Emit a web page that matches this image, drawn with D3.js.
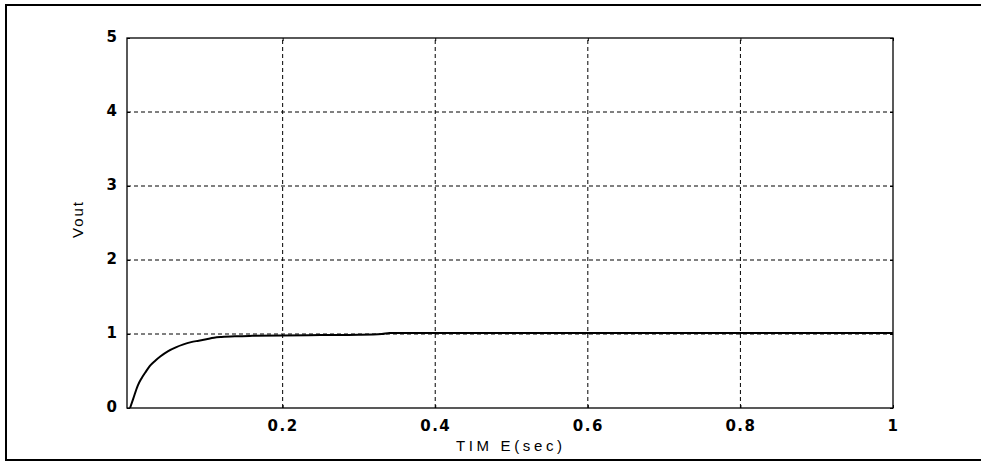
<!DOCTYPE html>
<html>
<head>
<meta charset="utf-8">
<script src="https://cdn.jsdelivr.net/npm/d3@7/dist/d3.min.js"></script>
<style>
  html, body { margin: 0; padding: 0; background: #fff; }
  svg { display: block; }
</style>
</head>
<body>
<svg id="chart" width="981" height="462"></svg>
<script>
// ---- data ----
const timeValues = [0, 0.004, 0.01, 0.015, 0.02, 0.026, 0.033, 0.04, 0.05, 0.06, 0.07, 0.08, 0.09, 0.1, 0.11, 0.12, 0.14, 0.16, 0.2, 0.25, 0.3, 0.33, 0.34, 0.5, 0.7, 1.0];
const voutValues = [0, 0.12, 0.30, 0.40, 0.48, 0.57, 0.64, 0.70, 0.77, 0.82, 0.86, 0.89, 0.91, 0.93, 0.95, 0.96, 0.97, 0.975, 0.98, 0.985, 0.99, 1.0, 1.015, 1.015, 1.015, 1.015];
const xTicks = [0.2, 0.4, 0.6, 0.8, 1];
const xTickLabels = ["0.2", "0.4", "0.6", "0.8", "1"];
const yTicks = [0, 1, 2, 3, 4, 5];
const yTickLabels = ["0", "1", "2", "3", "4", "5"];
const xLabel = "TIM E(sec)";
const yLabel = "Vout";

const svg = d3.select("#chart");

// outer frame (left, top, bottom edges)
svg.append("path")
  .attr("d", "M6,461 L6,5 L981,5 M6,460 L981,460")
  .attr("fill", "none").attr("stroke", "#000").attr("stroke-width", 2);

const L = 127, R = 893, T = 38, B = 408;
const x = d3.scaleLinear().domain([-0.004, 1]).range([L, R]);
const y = d3.scaleLinear().domain([0, 5]).range([B, T]);

const g = svg.append("g");

// grid lines
g.selectAll(".vgrid").data(xTicks.filter(d => d < 1)).enter().append("line")
  .attr("x1", d => x(d)).attr("x2", d => x(d)).attr("y1", B).attr("y2", T)
  .attr("stroke", "#000").attr("stroke-width", 1).attr("stroke-dasharray", "4,3");
g.selectAll(".hgrid").data(yTicks.filter(d => d > 0 && d < 5)).enter().append("line")
  .attr("x1", L).attr("x2", R).attr("y1", d => y(d)).attr("y2", d => y(d))
  .attr("stroke", "#000").attr("stroke-width", 1).attr("stroke-dasharray", "4,3");

// axes
const fmtX = (d) => xTickLabels[xTicks.indexOf(d)];
const fmtY = (d) => yTickLabels[yTicks.indexOf(d)];

const xAxis = g.append("g").attr("transform", `translate(0,${B})`)
  .call(d3.axisBottom(x).tickValues(xTicks).tickFormat(fmtX).tickSizeInner(-3).tickSizeOuter(0).tickPadding(12));
const yAxis = g.append("g").attr("transform", `translate(${L},0)`)
  .call(d3.axisLeft(y).tickValues(yTicks).tickFormat(fmtY).tickSizeInner(-3).tickSizeOuter(0).tickPadding(10));
const xTop = g.append("g").attr("transform", `translate(0,${T})`)
  .call(d3.axisTop(x).tickValues(xTicks).tickFormat("").tickSizeInner(-3).tickSizeOuter(0));
const yRight = g.append("g").attr("transform", `translate(${R},0)`)
  .call(d3.axisRight(y).tickValues(yTicks).tickFormat("").tickSizeInner(-3).tickSizeOuter(0));

[xAxis, yAxis, xTop, yRight].forEach(a => {
  a.select(".domain").remove();
  a.selectAll("line").attr("stroke", "#000");
  a.selectAll("text").attr("fill", "#000")
    .style("font-family", "'DejaVu Sans', Verdana, sans-serif")
    .style("font-size", "15px").style("font-weight", "bold");
});
xAxis.selectAll("text").style("letter-spacing", "1.5px");
yAxis.selectAll("text").attr("dy", "0.2em");

// axes box
g.append("rect").attr("x", L).attr("y", T).attr("width", R - L).attr("height", B - T)
  .attr("fill", "none").attr("stroke", "#000").attr("stroke-width", 1.3);

// curve
const pts = timeValues.map((t, i) => [t, voutValues[i]]);
g.append("path").datum(pts)
  .attr("d", d3.line().x(d => x(d[0])).y(d => y(d[1])).curve(d3.curveMonotoneX))
  .attr("fill", "none").attr("stroke", "#000").attr("stroke-width", 2);

// labels
svg.append("text").attr("x", 509).attr("y", 451).attr("text-anchor", "middle")
  .attr("textLength", 106).attr("lengthAdjust", "spacing")
  .style("font-family", "'Liberation Sans', Arial, sans-serif").style("font-size", "15px")
  .attr("fill", "#000").text(xLabel);
svg.append("text").attr("transform", "translate(83,220) rotate(-90)").attr("text-anchor", "middle")
  .attr("textLength", 36).attr("lengthAdjust", "spacing")
  .style("font-family", "'Liberation Sans', Arial, sans-serif").style("font-size", "15px")
  .attr("fill", "#000").text(yLabel);
</script>
</body>
</html>
